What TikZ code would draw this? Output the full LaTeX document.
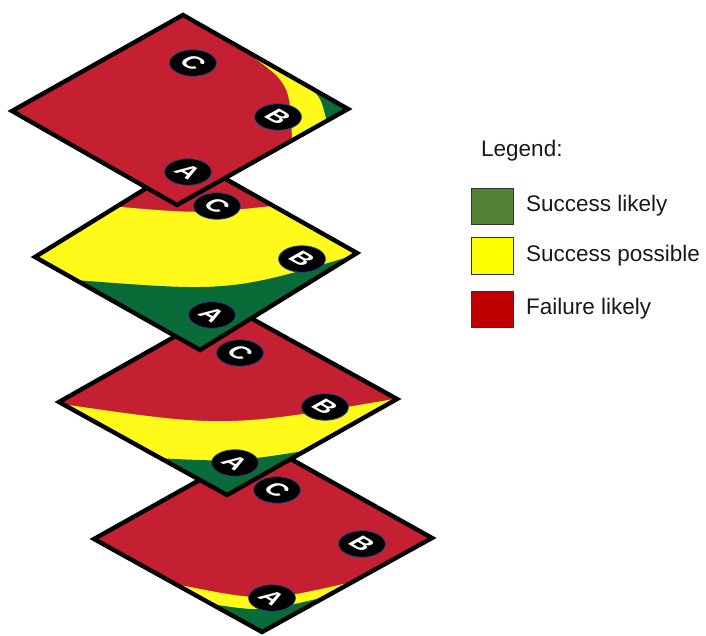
\documentclass[tikz,border=0pt]{standalone}
\usepackage{fontspec}
\setmainfont{Liberation Sans}
\definecolor{mapred}{HTML}{C42032}
\definecolor{mapyellow}{HTML}{FFFA1A}
\definecolor{mapgreen}{HTML}{086B38}
\definecolor{legreen}{HTML}{538135}
\definecolor{leyellow}{HTML}{FFFF00}
\definecolor{lered}{HTML}{C00000}
\definecolor{badgeedge}{HTML}{2B3F86}
\tikzset{
  plate/.style={draw=black, line width=4.4pt, line join=miter},
  badgeframe/.style={cm={0.868,-0.495,0.873,0.490,(0,0)}},
  badgedisc/.style={fill=black, draw=badgeedge, line width=0.8pt},
  badgetext/.style={transform shape, text=white, inner sep=0pt,
    font=\fontsize{25}{25}\selectfont\bfseries},
  legbox/.style={draw=black!80, line width=0.8pt},
  legtext/.style={anchor=base west, inner sep=0pt, text=black!90,
    font=\fontsize{22.5}{27}\selectfont},
}
\newcommand{\mybadge}[3]{%
  \begin{scope}[shift={#2}, badgeframe]
    \path[badgedisc] (0,0) circle (19);
    \node[badgetext] (#1) at (0,0) {#3};
  \end{scope}}
\begin{document}
\begin{tikzpicture}[x=1pt,y=1pt]
\useasboundingbox (0,0) rectangle (706,635);

% ---------- plate 4 (bottom) ----------
\coordinate (d4l) at (94,96);  \coordinate (d4t) at (264,191);
\coordinate (d4r) at (432,97); \coordinate (d4b) at (262,3);
\begin{scope}
  \clip (d4l)--(d4t)--(d4r)--(d4b)--cycle;
  \fill[mapred] (d4l)--(d4t)--(d4r)--(d4b)--cycle;
  \fill[mapyellow] (175,51) .. controls (265,33) .. (352,53) -- (450,53) -- (450,-10) -- (80,-10) -- (80,51) -- cycle;
  \fill[mapgreen] (205,32) .. controls (262,23) .. (325,38) -- (450,38) -- (450,-10) -- (80,-10) -- (80,32) -- cycle;
\end{scope}
\draw[plate] (d4l)--(d4t)--(d4r)--(d4b)--cycle;
\mybadge{d4c}{(277,145)}{C}
\mybadge{d4bb}{(362,91)}{B}
\mybadge{d4a}{(272,37)}{A}

% ---------- plate 3 ----------
\coordinate (d3l) at (59,233);  \coordinate (d3t) at (229,329);
\coordinate (d3r) at (397,236); \coordinate (d3b) at (227,140);
\begin{scope}
  \clip (d3l)--(d3t)--(d3r)--(d3b)--cycle;
  \fill[mapred] (d3l)--(d3t)--(d3r)--(d3b)--cycle;
  \fill[mapyellow] (55,232) .. controls (225,207) .. (400,237) -- (420,237) -- (420,100) -- (40,100) -- (40,232) -- cycle;
  \fill[mapgreen] (155,177) .. controls (235,173) .. (310,185) -- (420,185) -- (420,100) -- (40,100) -- (40,177) -- cycle;
\end{scope}
\draw[plate] (d3l)--(d3t)--(d3r)--(d3b)--cycle;
\mybadge{d3c}{(240,282)}{C}
\mybadge{d3bb}{(325,228)}{B}
\mybadge{d3a}{(235,172)}{A}

% ---------- plate 2 ----------
\coordinate (d2l) at (35,378);  \coordinate (d2t) at (192,475);
\coordinate (d2r) at (357,382); \coordinate (d2b) at (200,285);
\begin{scope}
  \clip (d2l)--(d2t)--(d2r)--(d2b)--cycle;
  \fill[mapred] (d2l)--(d2t)--(d2r)--(d2b)--cycle;
  \fill[mapyellow] (110,429) .. controls (200,421) .. (290,431) -- (420,431) -- (420,250) -- (0,250) -- (0,429) -- cycle;
  \fill[mapgreen] (75,355) .. controls (230,343) .. (362,382) -- (420,382) -- (420,250) -- (0,250) -- (0,355) -- cycle;
\end{scope}
\draw[plate] (d2l)--(d2t)--(d2r)--(d2b)--cycle;
\mybadge{d2c}{(217,429)}{C}
\mybadge{d2bb}{(302,376)}{B}
\mybadge{d2a}{(212,320)}{A}

% ---------- plate 1 (top) ----------
\coordinate (d1l) at (12,524);  \coordinate (d1t) at (183,620);
\coordinate (d1r) at (348,526); \coordinate (d1b) at (177,430);
\begin{scope}
  \clip (d1l)--(d1t)--(d1r)--(d1b)--cycle;
  \fill[mapred] (d1l)--(d1t)--(d1r)--(d1b)--cycle;
  \fill[mapyellow] (243,585) .. controls (290,552) .. (292,495) -- (296,480) -- (400,526) -- (245,600) -- cycle;
  \fill[mapgreen] (298,553) .. controls (320,541) .. (327,513) -- (330,505) -- (400,526) -- (300,565) -- cycle;
\end{scope}
\draw[plate] (d1l)--(d1t)--(d1r)--(d1b)--cycle;
\mybadge{d1c}{(193,572)}{C}
\mybadge{d1bb}{(278,518)}{B}
\mybadge{d1a}{(188,463)}{A}

% ---------- legend ----------
\node[legtext] (legtitle) at (481,478) {Legend:};
\node[legbox, fill=legreen, minimum width=42pt, minimum height=36pt, inner sep=0pt, anchor=north west] (kgreen) at (471,447) {};
\node[legbox, fill=leyellow, minimum width=42pt, minimum height=37pt, inner sep=0pt, anchor=north west] (kyellow) at (471,398) {};
\node[legbox, fill=lered, minimum width=42pt, minimum height=36pt, inner sep=0pt, anchor=north west] (kred) at (471,344) {};
\node[legtext] (tgreen) at (526,423) {Success likely};
\node[legtext] (tyellow) at (526,373) {Success possible};
\node[legtext] (tred) at (526,320) {Failure likely};
\end{tikzpicture}
\end{document}
